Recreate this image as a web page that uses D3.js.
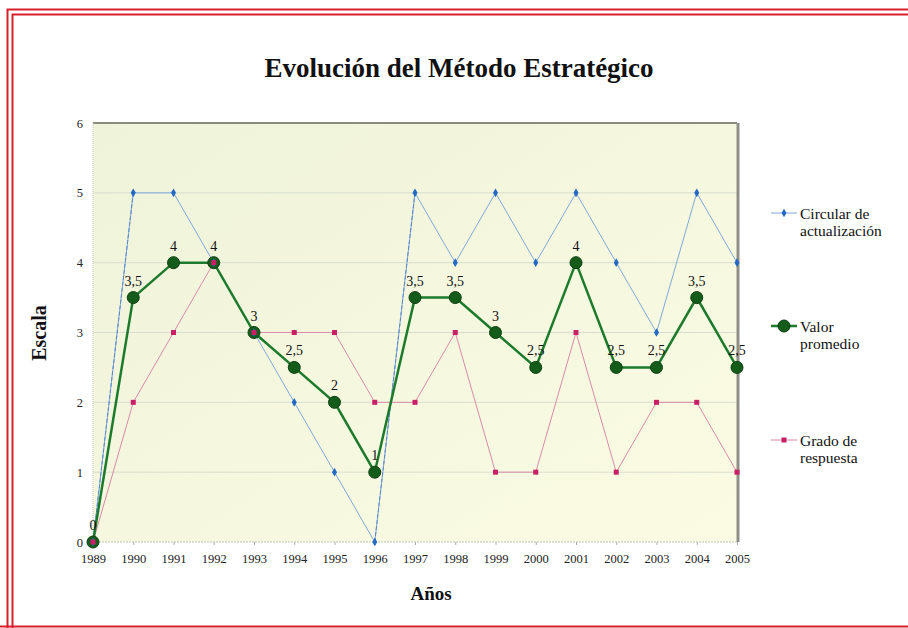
<!DOCTYPE html>
<html>
<head>
<meta charset="utf-8">
<script src="https://cdn.jsdelivr.net/npm/d3@7"></script>
<style>
  body { margin: 0; background: #fff; }
  svg { display: block; }
  svg text { font-family: "Liberation Serif", "Times New Roman", serif; }
</style>
</head>
<body>
<div id="chart"></div>
<script>
"use strict";

// years on the x axis
var years = [1989, 1990, 1991, 1992, 1993, 1994, 1995, 1996, 1997,
  1998, 1999, 2000, 2001, 2002, 2003, 2004, 2005];

// series
var circular = [0, 5, 5, 4, 3, 2, 1, 0, 5, 4, 5, 4, 5, 4, 3, 5, 4];
var promedio = [0, 3.5, 4, 4, 3, 2.5, 2, 1, 3.5, 3.5, 3, 2.5, 4, 2.5, 2.5, 3.5, 2.5];
var respuesta = [0, 2, 3, 4, 3, 3, 3, 2, 2, 3, 1, 1, 3, 1, 2, 2, 1];

var yTicks = [0, 1, 2, 3, 4, 5, 6];

var w = 908,
  h = 628,
  margin = { left: 93, right: 171, top: 123, bottom: 86 };

var svg = d3
  .select("#chart")
  .append("svg")
  .attr("width", w)
  .attr("height", h);

//red double frame
svg.append("path")
  .attr("d", "M7.5,628 V9.5 H908")
  .attr("fill", "none").attr("stroke", "#d9202a").attr("stroke-width", 2);
svg.append("path")
  .attr("d", "M12.5,628 V14.5 H908")
  .attr("fill", "none").attr("stroke", "#d9202a").attr("stroke-width", 2);
svg.append("line")
  .attr("x1", 0).attr("x2", w).attr("y1", 626.5).attr("y2", 626.5)
  .attr("stroke", "#d9202a").attr("stroke-width", 2);

var x = d3.scaleLinear()
  .domain([years[0], years[years.length - 1]])
  .range([margin.left, w - margin.right]);

var y = d3.scaleLinear()
  .domain([0, 6])
  .range([h - margin.bottom, margin.top]);

//plot background
var defs = svg.append("defs");
var grad = defs.append("linearGradient")
  .attr("id", "bg").attr("x1", "0").attr("y1", "0").attr("x2", "1").attr("y2", "1");
grad.append("stop").attr("offset", "0").attr("stop-color", "#eef3da");
grad.append("stop").attr("offset", "0.5").attr("stop-color", "#f5f7de");
grad.append("stop").attr("offset", "1").attr("stop-color", "#fbfbe4");

var px0 = x.range()[0], px1 = x.range()[1], py0 = y.range()[1], py1 = y.range()[0];

svg.append("rect")
  .attr("x", px0).attr("y", py0)
  .attr("width", px1 - px0).attr("height", py1 - py0)
  .attr("fill", "url(#bg)");

//grid lines
svg.append("g")
  .selectAll("line")
  .data(yTicks.slice(1, -1))
  .join("line")
  .attr("x1", px0).attr("x2", px1)
  .attr("y1", function(d) { return y(d); })
  .attr("y2", function(d) { return y(d); })
  .attr("stroke", "#d8decd").attr("stroke-width", 1);

//frame of plot area
svg.append("line")
  .attr("x1", px0).attr("x2", px1).attr("y1", py0).attr("y2", py0)
  .attr("stroke", "#8a8a80").attr("stroke-width", 2);
svg.append("line")
  .attr("x1", px1 + 1).attr("x2", px1 + 1).attr("y1", py0).attr("y2", py1)
  .attr("stroke", "#8f8f88").attr("stroke-width", 3);
svg.append("line")
  .attr("x1", px0).attr("x2", px0).attr("y1", py0).attr("y2", py1)
  .attr("stroke", "#c8c8c0").attr("stroke-width", 1).attr("stroke-dasharray", "1,1");
svg.append("line")
  .attr("x1", px0).attr("x2", px1).attr("y1", py1).attr("y2", py1)
  .attr("stroke", "#c0c4b8").attr("stroke-width", 1).attr("stroke-dasharray", "2,1");

//axes
var xAxis = svg.append("g")
  .attr("transform", "translate(0," + py1 + ")")
  .call(d3.axisBottom(x).tickValues(years).tickFormat(d3.format("d")).tickSize(3).tickPadding(9));
xAxis.select(".domain").remove();
xAxis.selectAll("line").attr("stroke", "#b0b0a8");
xAxis.selectAll("text")
  .attr("font-family", null).attr("font-size", 12.5).attr("fill", "#222");
xAxis.attr("font-family", null);

var yAxis = svg.append("g")
  .attr("transform", "translate(" + px0 + ",0)")
  .call(d3.axisLeft(y).tickValues(yTicks).tickFormat(d3.format("d")).tickSize(0).tickPadding(10));
yAxis.select(".domain").remove();
yAxis.attr("font-family", null);
yAxis.selectAll("text")
  .attr("font-size", 12.5).attr("fill", "#222");

//titles
svg.append("text")
  .attr("x", 459).attr("y", 77)
  .attr("text-anchor", "middle")
  .attr("font-size", 27).attr("font-weight", "bold").attr("fill", "#111")
  .text("Evolución del Método Estratégico");

svg.append("text")
  .attr("x", 431).attr("y", 600)
  .attr("text-anchor", "middle")
  .attr("font-size", 19).attr("font-weight", "bold").attr("fill", "#111")
  .text("Años");

svg.append("text")
  .attr("transform", "translate(46,333) rotate(-90)")
  .attr("text-anchor", "middle")
  .attr("font-size", 20).attr("font-weight", "bold").attr("fill", "#111")
  .text("Escala");

function pts(vals) {
  return vals.map(function(v, i) { return { year: years[i], v: v }; });
}

var line = d3.line()
  .x(function(d) { return x(d.year); })
  .y(function(d) { return y(d.v); });

var blueLine = "#7ea9dc", blueMark = "#2469c4";
var pinkLine = "#d88aa8", pinkMark = "#c81f66";
var green = "#1c7a2c", greenMark = "#145c1a";

//Circular de actualización
var circPts = pts(circular);
svg.append("path")
  .datum(circPts)
  .attr("d", line)
  .attr("fill", "none").attr("stroke", blueLine).attr("stroke-width", 1);

//big jumps are drawn dashed in the original
var jumps = d3.pairs(circPts).filter(function(p) { return p[1].v - p[0].v >= 5; });
svg.append("g")
  .selectAll("path")
  .data(jumps)
  .join("path")
  .attr("d", line)
  .attr("fill", "none").attr("stroke", "#5a86c8").attr("stroke-width", 1)
  .attr("stroke-dasharray", "4,2");

//Grado de respuesta line
var respPts = pts(respuesta);
svg.append("path")
  .datum(respPts)
  .attr("d", line)
  .attr("fill", "none").attr("stroke", pinkLine).attr("stroke-width", 1);

//Valor promedio
var promPts = pts(promedio);
svg.append("path")
  .datum(promPts)
  .attr("d", line)
  .attr("fill", "none").attr("stroke", green).attr("stroke-width", 2.5);

svg.append("g")
  .selectAll("circle")
  .data(promPts)
  .join("circle")
  .attr("cx", function(d) { return x(d.year); })
  .attr("cy", function(d) { return y(d.v); })
  .attr("r", 6)
  .attr("fill", greenMark).attr("stroke", "#0e3f12").attr("stroke-width", 1);

//blue diamonds
var diamond = d3.symbol().type(d3.symbolDiamond).size(22);
svg.append("g")
  .selectAll("path")
  .data(circPts)
  .join("path")
  .attr("transform", function(d) { return "translate(" + x(d.year) + "," + y(d.v) + ")"; })
  .attr("d", diamond)
  .attr("fill", blueMark);

//pink squares
svg.append("g")
  .selectAll("rect")
  .data(respPts)
  .join("rect")
  .attr("x", function(d) { return x(d.year) - 2.5; })
  .attr("y", function(d) { return y(d.v) - 2.5; })
  .attr("width", 5).attr("height", 5)
  .attr("fill", pinkMark);

//value labels on the average line
var fmt = function(v) { return String(v).replace(".", ","); };
svg.append("g")
  .selectAll("text")
  .data(promPts)
  .join("text")
  .attr("x", function(d) { return x(d.year); })
  .attr("y", function(d) { return y(d.v) - 12; })
  .attr("text-anchor", "middle")
  .attr("font-size", 14).attr("fill", "#111")
  .text(function(d) { return fmt(d.v); });

//legend
var legend = [
  { lines: ["Circular de", "actualización"], y: 213, kind: "blue" },
  { lines: ["Valor", "promedio"], y: 326, kind: "green" },
  { lines: ["Grado de", "respuesta"], y: 440, kind: "pink" }
];

var lg = svg.append("g").selectAll("g").data(legend).join("g")
  .attr("transform", function(d) { return "translate(0," + d.y + ")"; });

lg.append("line")
  .attr("x1", 771).attr("x2", 797).attr("y1", 0).attr("y2", 0)
  .attr("stroke", function(d) { return d.kind == "blue" ? blueLine : d.kind == "green" ? green : pinkLine; })
  .attr("stroke-width", function(d) { return d.kind == "green" ? 2.5 : 1; });

lg.each(function(d) {
  var g = d3.select(this);
  if (d.kind == "blue") {
    g.append("path").attr("transform", "translate(784,0)").attr("d", diamond).attr("fill", blueMark);
  } else if (d.kind == "green") {
    g.append("circle").attr("cx", 784).attr("cy", 0).attr("r", 6)
      .attr("fill", greenMark).attr("stroke", "#0e3f12");
  } else {
    g.append("rect").attr("x", 781.5).attr("y", -2.5).attr("width", 5).attr("height", 5).attr("fill", pinkMark);
  }
  g.selectAll("text").data(d.lines).join("text")
    .attr("x", 800)
    .attr("y", function(t, i) { return 6 + i * 17; })
    .attr("font-size", 15.5).attr("fill", "#111")
    .text(function(t) { return t; });
});
</script>
</body>
</html>
